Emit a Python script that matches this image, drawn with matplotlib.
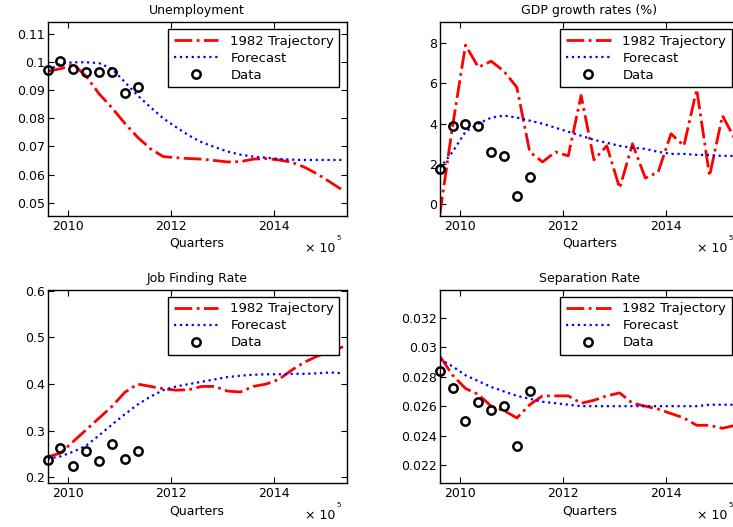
"""Unemployment / GDP / job finding / separation: 1982 trajectory vs forecast."""

import matplotlib

matplotlib.use("Agg")
import matplotlib.pyplot as plt

plt.rcParams["font.family"] = ["DejaVu Sans"]
plt.rcParams["font.size"] = 9

# quarterly dates (decimal years), 2009Q3 .. 2015Q2
QUARTERS = [
    2009.60, 2009.85, 2010.10, 2010.35, 2010.60, 2010.85, 2011.10, 2011.35,
    2011.60, 2011.85, 2012.10, 2012.35, 2012.60, 2012.85, 2013.10, 2013.35,
    2013.60, 2013.85, 2014.10, 2014.35, 2014.60, 2014.85, 2015.10, 2015.35,
]
DATA_QUARTERS = QUARTERS[:8]

UNEMP_TRAJ = [
    0.0968, 0.0977, 0.0992, 0.0950, 0.0888, 0.0838, 0.0783, 0.0733,
    0.0692, 0.0664, 0.0660, 0.0657, 0.0655, 0.0650, 0.0645, 0.0646,
    0.0655, 0.0657, 0.0652, 0.0644, 0.0626, 0.0602, 0.0573, 0.0543,
]
UNEMP_FCST = [
    0.0970, 0.0995, 0.1000, 0.1000, 0.0997, 0.0977, 0.0930, 0.0882,
    0.0840, 0.0800, 0.0769, 0.0739, 0.0715, 0.0698, 0.0682, 0.0671,
    0.0664, 0.0660, 0.0656, 0.0653, 0.0652, 0.0652, 0.0652, 0.0652,
]
UNEMP_DATA = [0.0974, 0.1004, 0.0975, 0.0964, 0.0964, 0.0964, 0.0892, 0.0913]

GDP_TRAJ = [
    -0.5, 3.9, 7.9, 6.8, 7.1, 6.6, 5.8, 2.6,
    2.1, 2.6, 2.4, 5.4, 2.2, 2.9, 0.8, 3.0,
    1.3, 1.6, 3.5, 2.9, 5.7, 1.4, 4.4, 3.2,
]
GDP_FCST = [
    1.8, 2.6, 3.6, 4.0, 4.3, 4.4, 4.3, 4.15,
    4.0, 3.8, 3.6, 3.4, 3.2, 3.05, 2.9, 2.8,
    2.75, 2.6, 2.5, 2.5, 2.45, 2.45, 2.4, 2.4,
]
GDP_DATA = [1.76, 3.86, 3.99, 3.86, 2.59, 2.42, 0.43, 1.34]

JF_TRAJ = [
    0.244, 0.252, 0.277, 0.302, 0.327, 0.352, 0.382, 0.400,
    0.395, 0.390, 0.387, 0.388, 0.395, 0.395, 0.385, 0.383,
    0.395, 0.400, 0.410, 0.430, 0.447, 0.460, 0.470, 0.480,
]
JF_FCST = [
    0.240, 0.245, 0.255, 0.268, 0.290, 0.313, 0.335, 0.356,
    0.373, 0.387, 0.395, 0.400, 0.405, 0.410, 0.415, 0.418,
    0.420, 0.421, 0.421, 0.422, 0.422, 0.423, 0.425, 0.423,
]
JF_DATA = [0.237, 0.264, 0.224, 0.257, 0.235, 0.271, 0.239, 0.257]

SEP_TRAJ = [
    0.0294, 0.0281, 0.0272, 0.0268, 0.0260, 0.0257, 0.0252, 0.0261,
    0.0267, 0.0267, 0.0267, 0.0262, 0.0264, 0.0267, 0.0269, 0.0262,
    0.0260, 0.0258, 0.0255, 0.0252, 0.0247, 0.0247, 0.0245, 0.0247,
]
SEP_FCST = [
    0.0292, 0.0287, 0.0281, 0.0277, 0.0273, 0.0270, 0.0267, 0.0265,
    0.0263, 0.0262, 0.0261, 0.0260, 0.0260, 0.0260, 0.0260, 0.0260,
    0.0260, 0.0260, 0.0260, 0.0260, 0.0260, 0.0261, 0.0261, 0.0261,
]
SEP_DATA = [0.0284, 0.0272, 0.0250, 0.02625, 0.02573, 0.02598, 0.0233, 0.0270]

PANELS = [
    ("Unemployment", UNEMP_TRAJ, UNEMP_FCST, UNEMP_DATA, (0.0454, 0.1143),
     [0.05, 0.06, 0.07, 0.08, 0.09, 0.10, 0.11],
     ["0.05", "0.06", "0.07", "0.08", "0.09", "0.1", "0.11"]),
    ("GDP growth rates (%)", GDP_TRAJ, GDP_FCST, GDP_DATA, (-0.56, 9.04),
     [0, 2, 4, 6, 8], ["0", "2", "4", "6", "8"]),
    ("Job Finding Rate", JF_TRAJ, JF_FCST, JF_DATA, (0.1885, 0.602),
     [0.2, 0.3, 0.4, 0.5, 0.6], ["0.2", "0.3", "0.4", "0.5", "0.6"]),
    ("Separation Rate", SEP_TRAJ, SEP_FCST, SEP_DATA, (0.0208, 0.0339),
     [0.022, 0.024, 0.026, 0.028, 0.030, 0.032],
     ["0.022", "0.024", "0.026", "0.028", "0.03", "0.032"]),
]

# axes rectangles in figure fractions; the right column runs past the edge
RECTS = [
    [0.065, 0.591, 0.408, 0.367],
    [0.600, 0.591, 0.408, 0.367],
    [0.065, 0.084, 0.408, 0.366],
    [0.600, 0.084, 0.408, 0.366],
]

fig = plt.figure(figsize=(7.33, 5.27), dpi=100)

for rect, (title, traj, fcst, data, ylim, yticks, ylabels) in zip(RECTS, PANELS):
    ax = fig.add_axes(rect)
    ax.plot(QUARTERS, traj, color="#ff0000", linestyle="-.", linewidth=2.0,
            label="1982 Trajectory")
    ax.plot(QUARTERS, fcst, color="#0000ff", linestyle=":", linewidth=1.6,
            label="Forecast")
    ax.plot(DATA_QUARTERS, data, linestyle="none", marker="o", markersize=6,
            markerfacecolor="none", markeredgecolor="black",
            markeredgewidth=1.8, label="Data", clip_on=False, zorder=3)

    ax.set_xlim(2009.6, 2015.42)
    ax.set_ylim(*ylim)
    ax.set_xticks([2010, 2012, 2014])
    ax.set_xticklabels(["2010", "2012", "2014"])
    ax.set_yticks(yticks)
    ax.set_yticklabels(ylabels)
    ax.tick_params(direction="in", top=True, right=True, length=4,
                   width=0.8, pad=3)
    ax.tick_params(axis="y", pad=2)
    for sp in ax.spines.values():
        sp.set_linewidth(1.0)

    ax.set_title(title, fontsize=9, pad=6)
    ax.set_xlabel("Quarters", labelpad=3)
    ax.text(0.962, -0.172, "\u00d7 10", transform=ax.transAxes,
            ha="right", va="center", fontsize=9)
    ax.text(0.966, -0.115, "5", transform=ax.transAxes,
            ha="left", va="center", fontsize=5)

    leg = ax.legend(loc="upper right", handlelength=3.4, borderaxespad=0.55,
                    fancybox=False, framealpha=1, edgecolor="black",
                    labelspacing=0.3, borderpad=0.4, handletextpad=0.9,
                    prop={"size": 9.5})
    leg.get_frame().set_linewidth(1.0)

fig.savefig("out.png", dpi=100)
